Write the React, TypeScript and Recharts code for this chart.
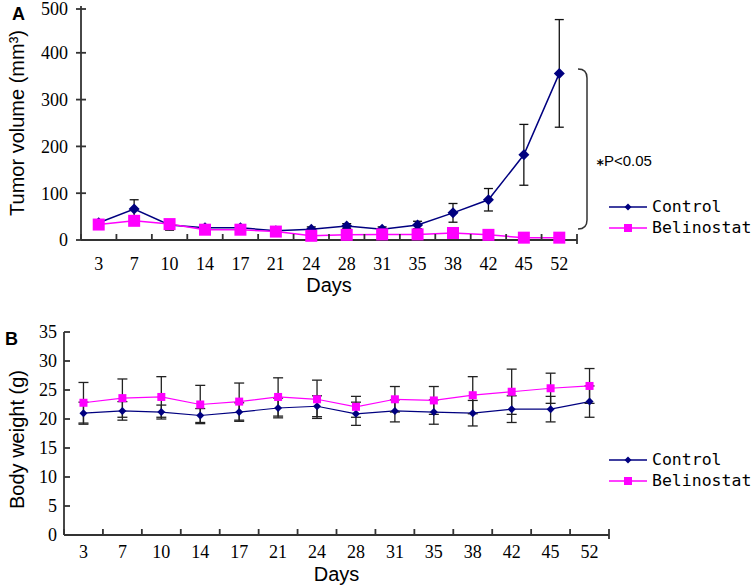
import React from 'react';
import { LineChart, Line, XAxis, YAxis, ErrorBar, Legend } from 'recharts';

const days = ['3', '7', '10', '14', '17', '21', '24', '28', '31', '35', '38', '42', '45', '52'];

// A: tumor volume (mm3)
const controlVolume = [37, 66, 32, 26, 26, 20, 23, 30, 23, 32, 58, 86, 182, 356];
const controlVolumeErr = [5, 20, 11, 5, 5, 5, 5, 5, 5, 8, 20, 24, 65, 115];
const belinostatVolume = [33, 41, 34, 22, 22, 18, 9, 11, 12, 12, 15, 11, 5, 5];
const belinostatVolumeErr = [4, 4, 4, 3, 3, 3, 2, 2, 2, 2, 3, 3, 2, 2];
const volumeTicks = [0, 100, 200, 300, 400, 500];

// B: body weight (g)
const controlWeight = [21.0, 21.4, 21.2, 20.6, 21.2, 21.9, 22.2, 20.9, 21.4, 21.2, 21.0, 21.7, 21.7, 23.0];
const controlWeightErr = [1.9, 1.6, 1.2, 1.2, 1.6, 1.7, 1.8, 2.0, 1.9, 2.1, 2.2, 2.3, 2.2, 2.7];
const belinostatWeight = [22.8, 23.6, 23.8, 22.5, 23.0, 23.8, 23.4, 22.1, 23.4, 23.2, 24.1, 24.7, 25.3, 25.7];
const belinostatWeightErr = [3.5, 3.3, 3.5, 3.3, 3.2, 3.3, 3.3, 1.8, 2.2, 2.4, 3.2, 3.9, 2.6, 3.0];
const weightTicks = [0, 5, 10, 15, 20, 25, 30, 35];

const seriesOrder = ['Control', 'Belinostat'];

const NAVY = '#000080';
const MAGENTA = '#ff00ff';
const AXIS = '#333';
const SERIF = '"Liberation Serif", serif';
const SANS = '"Liberation Sans", Arial, sans-serif';
const MONO = '"DejaVu Sans Mono", monospace';

const volumeData = days.map((day, i) => ({
  day,
  control: controlVolume[i],
  controlErr: controlVolumeErr[i],
  belinostat: belinostatVolume[i],
  belinostatErr: belinostatVolumeErr[i],
}));

const weightData = days.map((day, i) => ({
  day,
  control: controlWeight[i],
  controlErr: controlWeightErr[i],
  belinostat: belinostatWeight[i],
  belinostatErr: belinostatWeightErr[i],
}));

const diamond = (r: number) => (p: any) => {
  const { cx, cy, index } = p;
  if (cx == null || cy == null) return <g key={index} />;
  return (
    <path key={index} d={`M${cx},${cy - r}L${cx + r},${cy}L${cx},${cy + r}L${cx - r},${cy}Z`} fill={NAVY} />
  );
};

const square = (r: number) => (p: any) => {
  const { cx, cy, index } = p;
  if (cx == null || cy == null) return <g key={index} />;
  return <rect key={index} x={cx - r} y={cy - r} width={2 * r} height={2 * r} fill={MAGENTA} />;
};

// y ticks: line sticking out left/right of the axis, label to the left
const yTick = (left: number, right: number, gap: number) => (p: any) => {
  const { x, y, payload } = p;
  return (
    <g>
      <line x1={x - left} x2={x + right} y1={y} y2={y} stroke={AXIS} strokeWidth={1.8} />
      <text x={x - gap} y={y} dy="0.35em" textAnchor="end" fontFamily={SERIF} fontSize={18} fill="#000">
        {payload.value}
      </text>
    </g>
  );
};

// x ticks sit between categories (Excel style), labels in the middle
const xTick = (half: number, labelOffset: number) => (p: any) => {
  const { x, y, payload, index } = p;
  return (
    <g>
      <line x1={x - half} x2={x - half} y1={y} y2={y - 6} stroke={AXIS} strokeWidth={1.8} />
      {index === days.length - 1 && (
        <line x1={x + half} x2={x + half} y1={y + 4} y2={y - 6} stroke={AXIS} strokeWidth={1.8} />
      )}
      <text x={x} y={y + labelOffset} dy="0.35em" textAnchor="middle" fontFamily={SERIF} fontSize={18} fill="#000">
        {payload.value}
      </text>
    </g>
  );
};

const renderLegend = (props: any) => {
  const items = [...(props.payload || [])].sort(
    (a: any, b: any) => seriesOrder.indexOf(a.value) - seriesOrder.indexOf(b.value)
  );
  return (
    <div style={{ fontFamily: MONO, fontSize: 16.5, color: '#000', textAlign: 'left' }}>
      {items.map((entry: any) => (
        <div key={entry.value} style={{ display: 'flex', alignItems: 'center', height: 21 }}>
          <svg width={40} height={12}>
            <line x1={1} x2={39} y1={6} y2={6} stroke={entry.color} strokeWidth={1.5} />
            {entry.value === 'Control' ? (
              <path d="M20,2.5L23.5,6L20,9.5L16.5,6Z" fill={NAVY} />
            ) : (
              <rect x={16} y={2} width={8} height={8} fill={MAGENTA} />
            )}
          </svg>
          <span style={{ marginLeft: 4, whiteSpace: 'pre' }}>{entry.value}</span>
        </div>
      ))}
    </div>
  );
};

const axisTitle = { fontFamily: SANS, fontSize: 20, fill: '#000' };

const App = () => {
  const halfA = (577 - 81) / days.length / 2;
  const halfB = (609 - 64) / days.length / 2;

  return (
    <div style={{ position: 'absolute', left: 0, top: 0, width: 756, height: 588, background: '#fff' }}>
      <div style={{ position: 'absolute', left: 0, top: 0 }}>
        <LineChart width={756} height={300} data={volumeData} margin={{ top: 6, right: 179, bottom: 0, left: 0 }}>
          <XAxis
            dataKey="day"
            scale="band"
            interval={0}
            height={60}
            tickSize={0}
            tickMargin={0}
            tickLine={false}
            stroke={AXIS}
            strokeWidth={1.8}
            tick={xTick(halfA, 24)}
            label={{ value: 'Days', position: 'insideBottom', offset: 8, ...axisTitle }}
          />
          <YAxis
            domain={[0, 500]}
            ticks={volumeTicks}
            width={81}
            tickSize={0}
            tickMargin={0}
            tickLine={false}
            stroke={AXIS}
            strokeWidth={1.8}
            tick={yTick(5, 5, 13)}
            label={{
              value: 'Tumor volume (mm³)',
              angle: -90,
              position: 'insideLeft',
              offset: 17,
              style: { textAnchor: 'middle' },
              ...axisTitle,
            }}
          />
          <Legend
            layout="vertical"
            verticalAlign="middle"
            align="center"
            itemSorter={null}
            content={renderLegend}
            wrapperStyle={{ left: 608, top: 196, width: 150 }}
          />
          <Line
            dataKey="control"
            name="Control"
            stroke={NAVY}
            strokeWidth={1.5}
            dot={diamond(5.5)}
            activeDot={false}
            isAnimationActive={false}
          >
            <ErrorBar dataKey="controlErr" direction="y" width={4.5} stroke="#111" strokeWidth={1.3} />
          </Line>
          <Line
            dataKey="belinostat"
            name="Belinostat"
            stroke={MAGENTA}
            strokeWidth={1.5}
            dot={square(6)}
            activeDot={false}
            isAnimationActive={false}
          >
            <ErrorBar dataKey="belinostatErr" direction="y" width={4.5} stroke="#111" strokeWidth={1.3} />
          </Line>
        </LineChart>
      </div>

      <div style={{ position: 'absolute', left: 0, top: 300 }}>
        <LineChart width={756} height={288} data={weightData} margin={{ top: 32, right: 147, bottom: 0, left: 0 }}>
          <XAxis
            dataKey="day"
            scale="band"
            interval={0}
            height={53}
            tickSize={0}
            tickMargin={0}
            tickLine={false}
            stroke={AXIS}
            strokeWidth={1.8}
            tick={xTick(halfB, 17)}
            label={{ value: 'Days', position: 'insideBottom', offset: 7, ...axisTitle }}
          />
          <YAxis
            domain={[0, 35]}
            ticks={weightTicks}
            width={64}
            tickSize={0}
            tickMargin={0}
            tickLine={false}
            stroke={AXIS}
            strokeWidth={1.8}
            tick={yTick(0, 6, 7)}
            label={{
              value: 'Body weight (g)',
              angle: -90,
              position: 'insideLeft',
              offset: 17,
              dy: 6,
              style: { textAnchor: 'middle' },
              ...axisTitle,
            }}
          />
          <Legend
            layout="vertical"
            verticalAlign="middle"
            align="center"
            itemSorter={null}
            content={renderLegend}
            wrapperStyle={{ left: 608, top: 149, width: 150 }}
          />
          <Line
            dataKey="control"
            name="Control"
            stroke={NAVY}
            strokeWidth={1.2}
            dot={diamond(4)}
            activeDot={false}
            isAnimationActive={false}
          >
            <ErrorBar dataKey="controlErr" direction="y" width={5} stroke="#222" strokeWidth={1.3} />
          </Line>
          <Line
            dataKey="belinostat"
            name="Belinostat"
            stroke={MAGENTA}
            strokeWidth={1.2}
            dot={square(4)}
            activeDot={false}
            isAnimationActive={false}
          >
            <ErrorBar dataKey="belinostatErr" direction="y" width={5} stroke="#222" strokeWidth={1.3} />
          </Line>
        </LineChart>
      </div>

      {/* panel letters, significance bracket */}
      <svg width={756} height={588} style={{ position: 'absolute', left: 0, top: 0, pointerEvents: 'none' }}>
        <text x={12} y={20} fontFamily={SANS} fontWeight="bold" fontSize={18} fill="#000">A</text>
        <text x={5} y={345} fontFamily={SANS} fontWeight="bold" fontSize={18} fill="#000">B</text>
        <path
          d="M578,69 Q587,69 587,78 L587,220 Q587,229 578,229"
          fill="none"
          stroke={AXIS}
          strokeWidth={1.5}
        />
        <text x={596} y={169} fontFamily={MONO} fontWeight="bold" fontSize={14} fill="#000">*</text>
        <text x={604} y={166} fontFamily={SANS} fontSize={15} fill="#000">P&lt;0.05</text>
      </svg>
    </div>
  );
};

export default App;
